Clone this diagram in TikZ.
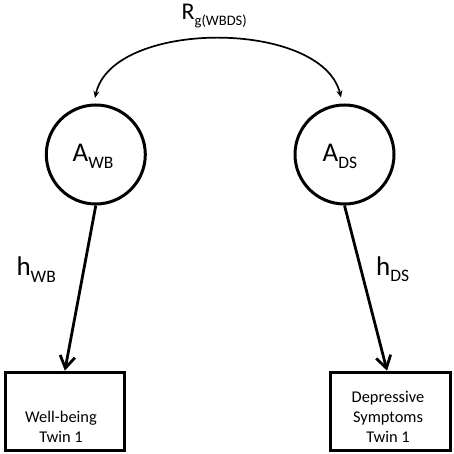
\documentclass[tikz,border=0pt]{standalone}
\usepackage{fontspec}
\setmainfont{Carlito}
\usetikzlibrary{arrows.meta,calc}
\newcommand\sbs[1]{\raisebox{-6.6pt}{\fontsize{17.5}{20}\selectfont #1}}
\newcommand\sbr[1]{\raisebox{-6.5pt}{\fontsize{14.5}{17}\selectfont #1}}
\begin{document}
\begin{tikzpicture}[x=1pt,y=-1pt,
  latent/.style={circle,draw,line width=3pt,minimum size=99pt,inner sep=0pt},
  obs/.style={rectangle,draw,line width=3pt,minimum height=78pt,inner sep=0pt},
  load/.style={line width=2.8pt,-{Straight Barb[length=12pt,width=15pt,line width=2.8pt]}},
  cov/.style={line width=1.7pt,{Stealth[length=7pt,width=6pt]}-{Stealth[length=7pt,width=6pt]}},
  big/.style={font=\fontsize{27}{32}\selectfont,inner sep=0pt},
  mid/.style={font=\fontsize{24}{28}\selectfont,inner sep=0pt},
  boxtxt/.style={font=\fontsize{16.4}{20}\selectfont,align=center,inner sep=0pt}]
\useasboundingbox (0,0) rectangle (454,454);
% latent factors
\node[latent] (awb) at (95.8,154.5) {};
\node[latent] (ads) at (344.5,154.5) {};
% observed variables
\node[obs,minimum width=118.7pt] (wb) at (64.85,411.2) {};
\node[obs,minimum width=119.7pt] (ds) at (390.35,411.2) {};
% labels
\node[big,anchor=base west] (lawb) at (72.5,161.7) {A\sbs{WB}};
\node[big,anchor=base west] (lads) at (322.5,161.7) {A\sbs{DS}};
\node[mid,anchor=base west] (lr) at (181.5,19.5) {R\sbr{g(WBDS)}};
\node[big,anchor=base west] (lhwb) at (16.3,275.7) {h\sbs{WB}};
\node[big,anchor=base west] (lhds) at (376,275) {h\sbs{DS}};
\node[boxtxt,anchor=base] (twb) at (61,442.3) {Well-being\\Twin 1};
\node[boxtxt,anchor=base] (tds) at (388,442.3) {Depressive\\Symptoms\\Twin 1};
% connectors
\coordinate (c1) at ($(awb.north)+(-0.8,-5.5)$);
\coordinate (c2) at ($(ads.north)+(-3.5,-6)$);
\draw[cov] (c1) .. controls (112,19) and (322,19) .. (c2);
\draw[load] (awb.south) -- (wb.north);
\draw[load] (ads.south) -- ($(ds.north)+(-3.3,0)$);
\end{tikzpicture}
\end{document}
